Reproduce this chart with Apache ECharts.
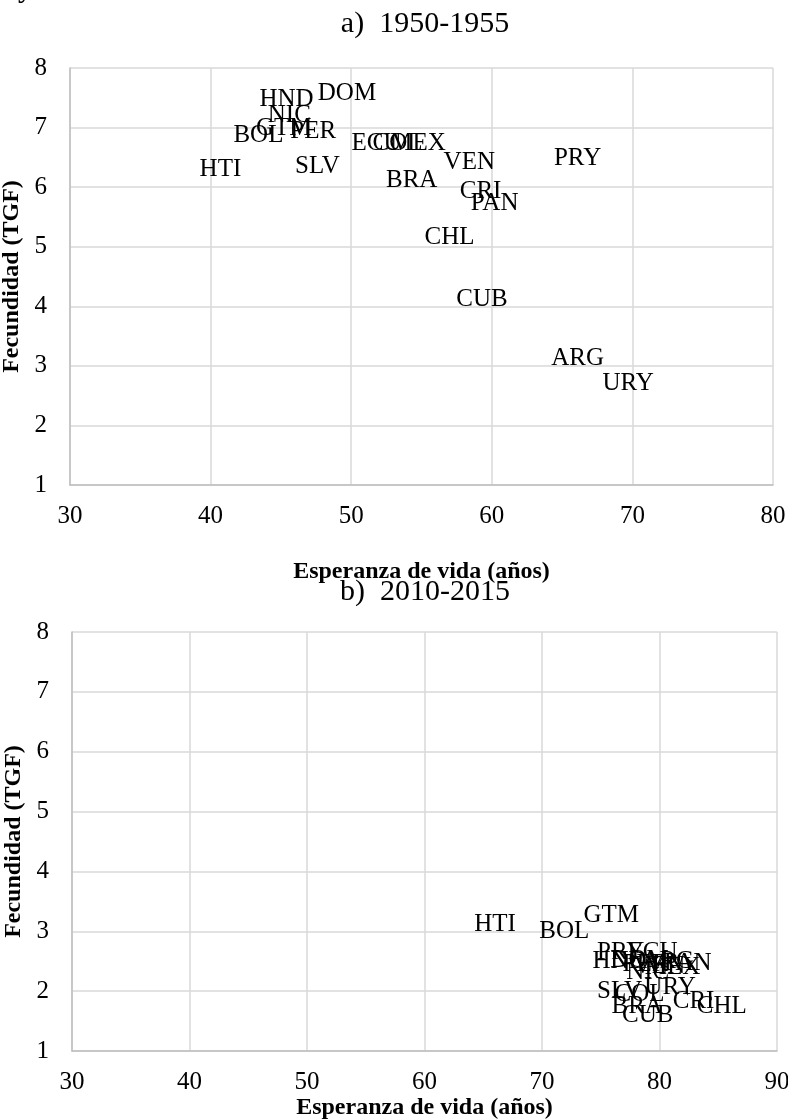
<!DOCTYPE html>
<html>
<head>
<meta charset="utf-8">
<script src="https://cdn.jsdelivr.net/npm/echarts@6/dist/echarts.min.js"></script>
<style>
  html, body { margin: 0; padding: 0; background: #fff; }
  #chart { width: 788px; height: 1120px; }
</style>
</head>
<body>
<div id="chart"></div>
<script>
// ---- Data (label centres) ----
const panelTitles = ['a)  1950-1955', 'b)  2010-2015'];
const xAxisName = 'Esperanza de vida (años)';
const yAxisName = 'Fecundidad (TGF)';

const codesA = ['HND','DOM','NIC','GTM','PER','BOL','HTI','SLV','ECU','COL','MEX','VEN','PRY','BRA','CRI','PAN','CHL','CUB','ARG','URY'];
const lifeA  = [45.4, 49.7, 45.6, 45.2, 47.3, 43.4, 40.7, 47.6, 51.8, 53.3, 54.75, 58.4, 66.1, 54.3, 59.2, 60.2, 57.0, 59.3, 66.1, 69.7];
const tfrA   = [7.47, 7.57, 7.21, 6.99, 6.93, 6.86, 6.29, 6.34, 6.74, 6.74, 6.74, 6.42, 6.49, 6.12, 5.92, 5.73, 5.15, 4.12, 3.13, 2.71];

const codesB = ['HTI','BOL','GTM','PRY','ECU','HND','DOM','PER','PAN','NIC','MEX','VEN','ARG','SLV','COL','URY','BRA','CRI','CHL','CUB'];
const lifeB  = [66.0, 71.9, 75.9, 76.7, 79.4, 76.6, 78.3, 78.8, 82.4, 79.0, 81.1, 80.0, 80.7, 76.6, 78.3, 80.9, 78.1, 82.9, 85.3, 79.0];
const tfrB   = [3.11, 3.00, 3.27, 2.65, 2.65, 2.49, 2.52, 2.44, 2.47, 2.32, 2.39, 2.42, 2.49, 1.99, 1.94, 2.07, 1.75, 1.82, 1.74, 1.60];

const xRangeA = [30, 80];
const xRangeB = [30, 90];
const yRange  = [1, 8];

// ---- Chart ----
const serif = '"Liberation Serif", "Times New Roman", serif';
const chart = echarts.init(document.getElementById('chart'), null, { renderer: 'canvas' });

function pts(codes, xs, ys) {
  return codes.map((c, i) => [xs[i], ys[i], c]);
}

function xAxisDef(gridIndex, range, nameGap) {
  return {
    gridIndex, type: 'value', min: range[0], max: range[1], interval: 10,
    name: xAxisName, nameLocation: 'middle', nameGap: nameGap,
    nameTextStyle: { fontFamily: serif, fontWeight: 'bold', fontSize: 24, color: '#000' },
    axisLine: { show: true, onZero: false, lineStyle: { color: '#bfbfbf', width: 1.5 } },
    axisTick: { show: false },
    axisLabel: { fontFamily: serif, fontSize: 25, color: '#000', margin: 19 },
    splitLine: { show: true, lineStyle: { color: '#d9d9d9', width: 1.5 } }
  };
}
function yAxisDef(gridIndex) {
  return {
    gridIndex, type: 'value', min: yRange[0], max: yRange[1], interval: 1,
    name: yAxisName, nameLocation: 'middle', nameGap: 36, nameRotate: 90,
    nameTextStyle: { fontFamily: serif, fontWeight: 'bold', fontSize: 24, color: '#000' },
    axisLine: { show: true, onZero: false, lineStyle: { color: '#bfbfbf', width: 1.5 } },
    axisTick: { show: false },
    axisLabel: { fontFamily: serif, fontSize: 25, color: '#000', margin: 23 },
    splitLine: { show: true, lineStyle: { color: '#d9d9d9', width: 1.5 } }
  };
}
function labelSeries(idx, data) {
  return {
    type: 'scatter', xAxisIndex: idx, yAxisIndex: idx,
    symbolSize: 0, silent: true, animation: false,
    itemStyle: { opacity: 1 },
    data: data,
    label: {
      show: true, position: 'inside',
      formatter: p => p.value[2],
      fontFamily: serif, fontSize: 25, color: '#000'
    }
  };
}

chart.setOption({
  animation: false,
  backgroundColor: '#fff',
  title: [
    { text: panelTitles[0], left: 420, top: 4, textAlign: 'center',
      textStyle: { fontFamily: serif, fontSize: 30, fontWeight: 'normal', color: '#000' } },
    { text: panelTitles[1], left: 420, top: 572, textAlign: 'center',
      textStyle: { fontFamily: serif, fontSize: 30, fontWeight: 'normal', color: '#000' } }
  ],
  graphic: [
    { type: 'text', left: 18, top: -24, style: { text: 'y', font: 'bold 28px ' + serif, fill: '#000' } }
  ],
  grid: [
    { left: 70, top: 68, width: 703, height: 417, outerBoundsMode: 'none', containLabel: false },
    { left: 72, top: 632, width: 705, height: 419, outerBoundsMode: 'none', containLabel: false }
  ],
  xAxis: [ xAxisDef(0, xRangeA, 75), xAxisDef(1, xRangeB, 45) ],
  yAxis: [ yAxisDef(0), yAxisDef(1) ],
  series: [
    labelSeries(0, pts(codesA, lifeA, tfrA)),
    labelSeries(1, pts(codesB, lifeB, tfrB))
  ]
});
</script>
</body>
</html>
